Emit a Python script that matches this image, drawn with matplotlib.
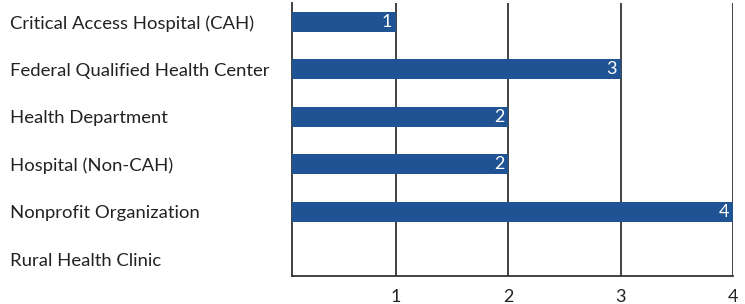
import matplotlib.pyplot as plt

categories = [
    "Critical Access Hospital (CAH)",
    "Federal Qualified Health Center",
    "Health Department",
    "Hospital (Non-CAH)",
    "Nonprofit Organization",
    "Rural Health Clinic",
]
counts = [1, 3, 2, 2, 4, 0]
x_ticks = [1, 2, 3, 4]

plt.rcParams["font.family"] = ["Lato", "DejaVu Sans"]

fig = plt.figure(figsize=(7.45, 3.04), dpi=100)
ax = fig.add_axes([292 / 745, 28 / 304, 441 / 745, 273 / 304])

bar_color = "#1f5393"
line_color = "#333333"
pos = list(range(len(categories)))

ax.barh(pos, counts, height=0.42, color=bar_color, zorder=3)
for p, c in zip(pos, counts):
    if c > 0:
        ax.annotate(str(c), (c, p), xytext=(-3, 0), textcoords="offset points",
                    ha="right", va="center", color="white", fontsize=13, zorder=4)

ax.set_xlim(0.075, 4)
ax.set_ylim(5.35, -0.4)

ax.set_xticks(x_ticks)
ax.set_xticklabels([str(t) for t in x_ticks], fontsize=13, color="#222222")
ax.set_yticks(pos)
ax.set_yticklabels(categories, fontsize=13.3, color="#222222", ha="left")
ax.tick_params(axis="x", length=0, pad=9)
ax.tick_params(axis="y", length=0, pad=203)

ax.grid(axis="x", color=line_color, linewidth=1.3, zorder=1)
ax.grid(axis="y", visible=False)
for side in ["top", "right"]:
    ax.spines[side].set_visible(False)
for side in ["left", "bottom"]:
    ax.spines[side].set_color(line_color)
    ax.spines[side].set_linewidth(1.3)

fig.savefig("out.png", dpi=100)
